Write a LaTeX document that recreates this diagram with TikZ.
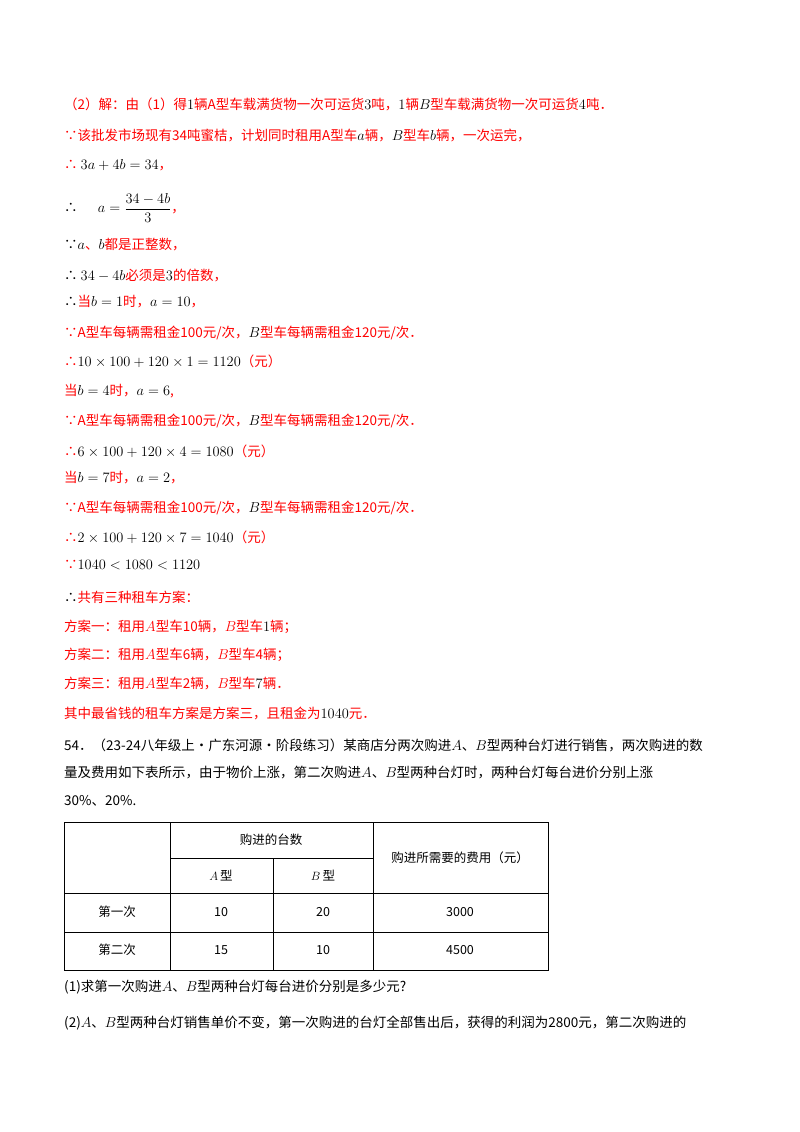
\documentclass[tikz,border=0pt]{standalone}
\usepackage{fontspec}
\setmainfont{Noto Sans CJK SC}
\definecolor{rd}{RGB}{255,0,0}
\begin{document}
\begin{tikzpicture}[x=1pt,y=-1pt,
  ln/.style={anchor=west,inner sep=0pt,font=\fontsize{13.5}{15}\selectfont},
  r/.style={ln,text=rd},
  b/.style={ln,text=black},
  cell/.style={inner sep=0pt,font=\fontsize{12.5}{14}\selectfont}]
\useasboundingbox (0,0) rectangle (800,1132);
\newcommand\mk[1]{\textcolor{black}{$#1$}}
\node[r] (l1) at (64,104) {（2）解：由（1）得\mk{1}辆A型车载满货物一次可运货\mk{3}吨，\mk{1}辆\mk{B}型车载满货物一次可运货\mk{4}吨．};
\node[r] (l2) at (64,135) {∵该批发市场现有34吨蜜桔，计划同时租用A型车\mk{a}辆，\mk{B}型车\mk{b}辆，一次运完，};
\node[r] (l3) at (64,165) {∴ \mk{3a+4b=34}，};
\node[r] (l4) at (64,208) {\textcolor{black}{∴}\quad\; \mk{\displaystyle a=\frac{34-4b}{3}}，};
\node[r] (l5) at (64,245) {\textcolor{black}{∵}\mk{a}、\mk{b}都是正整数，};
\node[r] (l6) at (64,275) {\textcolor{black}{∴} \mk{34-4b}必须是\mk{3}的倍数，};
\node[r] (l7) at (64,302) {\textcolor{black}{∴}当\mk{b=1}时，\mk{a=10}，};
\node[r] (l8) at (64,333) {∵A型车每辆需租金100元/次，\mk{B}型车每辆需租金120元/次．};
\node[r] (l9) at (64,361) {∴\mk{10\times100+120\times1=1120}（元）};
\node[r] (l10) at (64,391) {当\mk{b=4}时，\mk{a=6},};
\node[r] (l11) at (64,421) {∵A型车每辆需租金100元/次，\mk{B}型车每辆需租金120元/次．};
\node[r] (l12) at (64,451) {∴\mk{6\times100+120\times4=1080}（元）};
\node[r] (l13) at (64,478) {当\mk{b=7}时，\mk{a=2}，};
\node[r] (l14) at (64,508) {∵A型车每辆需租金100元/次，\mk{B}型车每辆需租金120元/次．};
\node[r] (l15) at (64,537) {∴\mk{2\times100+120\times7=1040}（元）};
\node[r] (l16) at (64,565) {∵\mk{1040<1080<1120}};
\node[r] (l17) at (64,597) {\textcolor{black}{∴}共有三种租车方案：};
\node[r] (l18) at (64,627) {方案一：租用$A$型车10辆，$B$型车\mk{1}辆；};
\node[r] (l19) at (64,655) {方案二：租用$A$型车6辆，$B$型车4辆；};
\node[r] (l20) at (64,684) {方案三：租用$A$型车2辆，$B$型车\mk{7}辆．};
\node[r] (l21) at (64,713) {其中最省钱的租车方案是方案三，且租金为\mk{1040}元．};
\node[b] (q1) at (64,745) {54．（23-24八年级上·广东河源·阶段练习）某商店分两次购进$A$、$B$型两种台灯进行销售，两次购进的数};
\node[b] (q2) at (64,773) {量及费用如下表所示，由于物价上涨，第二次购进$A$、$B$型两种台灯时，两种台灯每台进价分别上涨};
\node[b] (q3) at (64,801) {30\%、20\%.};
\draw[black,line width=0.8pt] (64,822) rectangle (548,970);
\draw (170,822) -- (170,970) (373,822) -- (373,970) (273,858) -- (273,970);
\draw (170,858) -- (373,858) (64,893) -- (548,893) (64,932) -- (548,932);
\node[cell] (h1) at (271,840) {购进的台数};
\node[cell] (h2) at (460,858) {购进所需要的费用（元）};
\node[cell] (ha) at (221,876) {$A$\,型};
\node[cell] (hb) at (323,876) {$B$\,型};
\node[cell] (c1) at (117,912) {第一次};
\node[cell] (c2) at (221,912) {10};
\node[cell] (c3) at (323,912) {20};
\node[cell] (c4) at (460,912) {3000};
\node[cell] (d1) at (117,950) {第二次};
\node[cell] (d2) at (221,950) {15};
\node[cell] (d3) at (323,950) {10};
\node[cell] (d4) at (460,950) {4500};
\node[b] (q4) at (64,987) {(1)求第一次购进$A$、$B$型两种台灯每台进价分别是多少元?};
\node[b] (q5) at (64,1023) {(2)$A$、$B$型两种台灯销售单价不变，第一次购进的台灯全部售出后，获得的利润为2800元，第二次购进的};
\end{tikzpicture}
\end{document}
